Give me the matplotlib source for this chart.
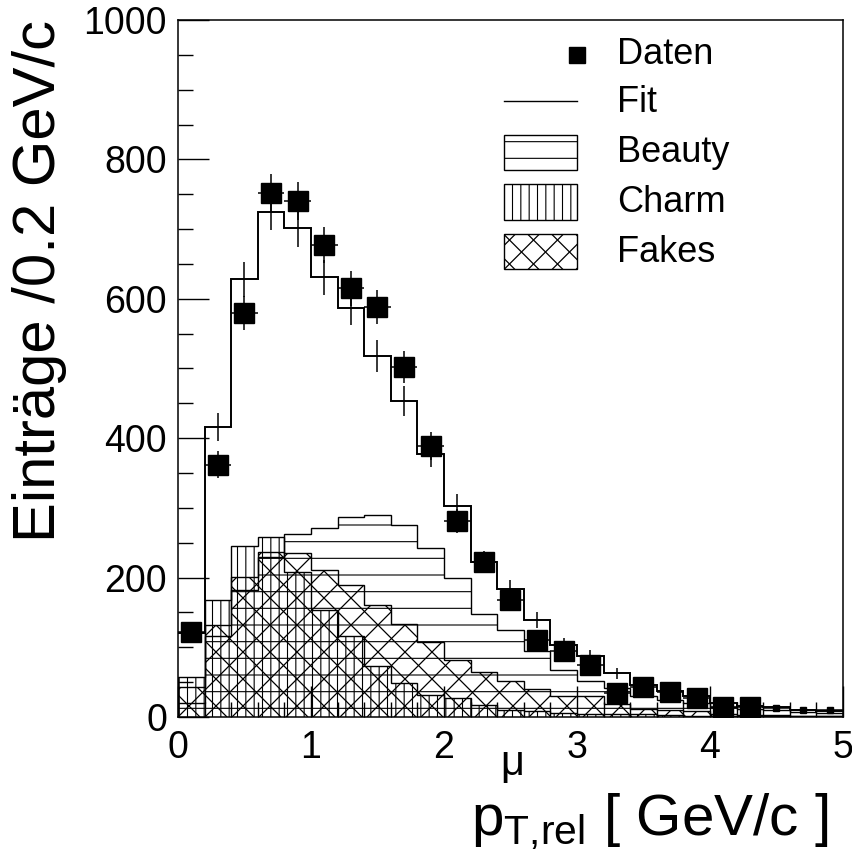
import numpy as np
import matplotlib
matplotlib.use("Agg")
import matplotlib.pyplot as plt
from matplotlib.patches import Rectangle
from matplotlib.lines import Line2D
from matplotlib.collections import LineCollection
from matplotlib.ticker import MultipleLocator

plt.rcParams['font.family'] = ['Liberation Sans', 'DejaVu Sans']
plt.rcParams['mathtext.fontset'] = 'custom'
plt.rcParams['mathtext.rm'] = 'Liberation Sans'
plt.rcParams['mathtext.it'] = 'Liberation Sans'
plt.rcParams['mathtext.bf'] = 'Liberation Sans:bold'
plt.rcParams['hatch.linewidth'] = 0.8

# ---------------- data ----------------
bin_edges = [0.0, 0.2, 0.4, 0.6, 0.8, 1.0, 1.2, 1.4, 1.6, 1.8, 2.0, 2.2, 2.4,
             2.6, 2.8, 3.0, 3.2, 3.4, 3.6, 3.8, 4.0, 4.2, 4.4, 4.6, 4.8, 5.0]
data_counts = [122, 362, 580, 752, 740, 677, 615, 588, 502, 389, 281, 222, 168,
               110, 95, 75, 34, 43, 36, 27, 15, 15, 12.5, 9.6, 9.4]
fit_counts = [120, 416, 628, 725, 701, 631, 587, 518, 453, 378, 303, 223, 183,
              139, 103, 87, 63, 46, 38, 30, 20, 16, 14, 10, 8]
beauty_counts = [20, 116, 182, 230, 262, 271, 287, 290, 276, 242, 199, 148, 125,
                 94, 67, 51, 41, 30, 24, 20, 14, 11, 10, 7, 6]
charm_counts = [57, 168, 245, 258, 208, 154, 116, 73, 49, 32, 27, 17, 10,
                8, 6, 5, 4, 4, 3, 2, 2, 2, 1, 1, 1]
fakes_counts = [43, 132, 201, 237, 235, 211, 190, 161, 133, 107, 82, 65, 51,
                40, 30, 30, 18, 12, 10, 8, 4, 3, 3, 2, 1]
legend_labels = ["Daten", "Fit", "Beauty", "Charm", "Fakes"]

edges = np.array(bin_edges)
centers = 0.5 * (edges[:-1] + edges[1:])
halfw = 0.5 * (edges[1:] - edges[:-1])
data = np.array(data_counts, dtype=float)
fit = np.array(fit_counts, dtype=float)

W, H = 853, 858
AX_L, AX_R, AX_T, AX_B = 178, 843, 20, 717

fig = plt.figure(figsize=(W / 100, H / 100), dpi=100)
ax = fig.add_axes([AX_L / W, 1 - AX_B / H, (AX_R - AX_L) / W, (AX_B - AX_T) / H])
ax.set_xlim(0, 5)
ax.set_ylim(0, 1000)

axw = AX_R - AX_L
axh = AX_B - AX_T


def px2ax(px, py):
    return (px - AX_L) / axw, (AX_B - py) / axh


def cross_hatch(clip_patch, spacing=27.0, lw=0.9, region=None, zorder=2):
    # diagonal lines at +/-45 degrees (in pixel space), clipped to a patch
    if region is None:
        x0p, x1p, y0p, y1p = 0, axw, 0, axh
    else:
        x0p, x1p, y0p, y1p = region
    w = x1p - x0p
    h = y1p - y0p
    segs = []
    n = int((w + h) / spacing) + 2
    for k in range(-n, n + 1):
        xs = x0p + k * spacing
        segs.append([(xs / axw, y0p / axh), ((xs + h) / axw, y1p / axh)])
        segs.append([(xs / axw, y1p / axh), ((xs + h) / axw, y0p / axh)])
    lc = LineCollection(segs, transform=ax.transAxes, colors='black',
                        linewidths=lw, zorder=zorder)
    ax.add_collection(lc, autolim=False)
    lc.set_clip_path(clip_patch)
    return lc


# component histograms (overlaid, not stacked)
ax.stairs(beauty_counts, edges, fill=True, facecolor='none', edgecolor='black',
          hatch='-', linewidth=1.0, zorder=2)
ax.stairs(charm_counts, edges, fill=True, facecolor='none', edgecolor='black',
          hatch='||', linewidth=1.0, zorder=2)
fk = ax.stairs(fakes_counts, edges, fill=True, facecolor='none',
               edgecolor='black', linewidth=1.0, zorder=2)
cross_hatch(fk)

# fit
ax.stairs(fit, edges, color='black', linewidth=1.4, baseline=None, zorder=3)
fe = np.sqrt(fit)
ax.vlines(centers, fit - fe, fit + fe, color='black', linewidth=1.1, zorder=3)

# data
de = np.sqrt(data)
big = centers < 4.4
ax.errorbar(centers[big], data[big], yerr=de[big], xerr=halfw[big], fmt='s',
            color='black', ms=14, elinewidth=1.1, capsize=0, zorder=5)
ax.errorbar(centers[~big], data[~big], yerr=de[~big], xerr=halfw[~big], fmt='s',
            color='black', ms=5, elinewidth=1.1, capsize=0, zorder=5)

# axes style
ax.xaxis.set_major_locator(MultipleLocator(1))
ax.xaxis.set_minor_locator(MultipleLocator(0.2))
ax.yaxis.set_major_locator(MultipleLocator(200))
ax.yaxis.set_minor_locator(MultipleLocator(50))
ax.tick_params(which='both', direction='in', top=False, right=False, width=1.0)
ax.tick_params(which='major', length=22, labelsize=27)
ax.tick_params(which='minor', length=11)
ax.tick_params(axis='y', which='major', pad=8)
ax.tick_params(axis='x', which='major', pad=9)
for s in ax.spines.values():
    s.set_linewidth(1.1)

# axis titles
fig.text(12 / W, 1 - AX_T / H, "Einträge /0.2 GeV/c", rotation=90,
         ha='left', va='top', fontsize=43)
fig.text(828 / W, 1 - 835 / H, r"$\mathregular{p_{T{,}rel}}$ [ GeV/c ]",
         ha='right', va='baseline', fontsize=42)
fig.text(512 / W, 1 - 764 / H, "μ", ha='center', va='center', fontsize=30)

# legend (drawn manually, ROOT style)
box_x0, box_x1 = 504, 577
text_x = 617
rows = [54, 103, 152, 202, 252]
mx, my = px2ax(577, 55)
ax.plot([mx], [my], 's', color='black', ms=12, transform=ax.transAxes,
        clip_on=False, zorder=6)
ax.add_line(Line2D([px2ax(box_x0, 0)[0], px2ax(box_x1, 0)[0]],
                   [px2ax(0, 101)[1]] * 2, color='black', linewidth=1.0,
                   transform=ax.transAxes))
hatches = ['-', '||', None]
for i, hatch in enumerate(hatches):
    cy = rows[2 + i]
    x0, y0 = px2ax(box_x0, cy + 17.5)
    x1, y1 = px2ax(box_x1, cy - 17.5)
    r = Rectangle((x0, y0), x1 - x0, y1 - y0, transform=ax.transAxes,
                  facecolor='white', edgecolor='black', linewidth=1.0,
                  hatch=hatch, zorder=6)
    ax.add_patch(r)
    if hatch is None:
        cross_hatch(r, spacing=24.0, lw=0.9,
                    region=(box_x0 - AX_L, box_x1 - AX_L,
                            AX_B - (cy + 17.5), AX_B - (cy - 17.5)),
                    zorder=7)
for lab, cy in zip(legend_labels, rows):
    tx, ty = px2ax(text_x, cy)
    ax.text(tx, ty, lab, transform=ax.transAxes, ha='left', va='center',
            fontsize=26, zorder=7)

fig.savefig("out.png", dpi=100)
